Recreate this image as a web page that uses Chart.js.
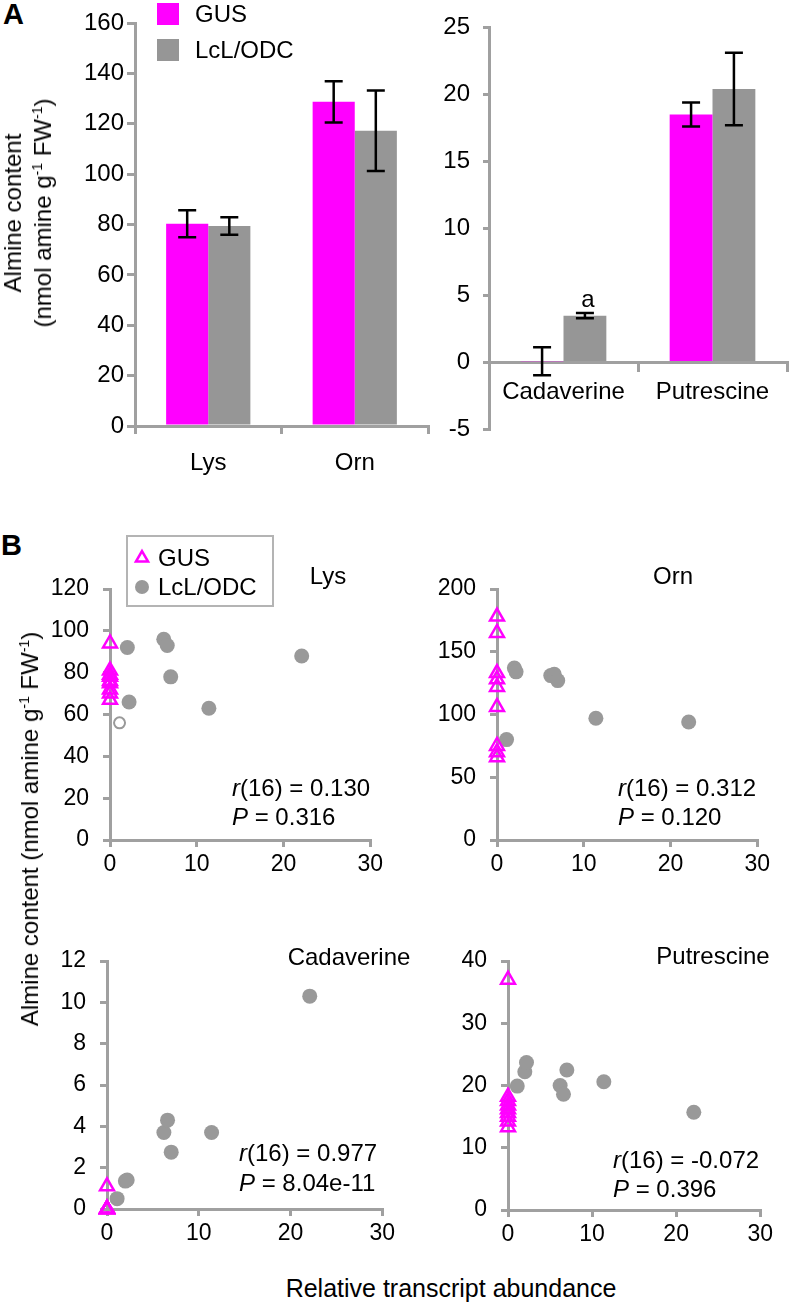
<!doctype html>
<html>
<head>
<meta charset="utf-8">
<script src="https://cdn.jsdelivr.net/npm/chart.js@4.4.1/dist/chart.umd.min.js"></script>
<style>
  body { margin: 0; background: #fff; }
  #fig { position: relative; width: 789px; height: 1304px; overflow: hidden;
         font-family: 'Liberation Sans', Arial, sans-serif; color: #000; }
  #fig canvas { position: absolute; }
  .t { position: absolute; font-size: 24px; line-height: 24px; white-space: nowrap; }
  .c { transform: translate(-50%, -50%); }
  .panel { font-weight: bold; font-size: 29px; line-height: 29px; }
  .rot { transform: translate(-50%, -50%) rotate(-90deg); text-align: center; }
  sup { font-size: 14px; vertical-align: 9px; line-height: 0; }
</style>
</head>
<body>
<div id="fig">
  <canvas id="a1"></canvas>
  <canvas id="a2"></canvas>
  <canvas id="bLys"></canvas>
  <canvas id="bOrn"></canvas>
  <canvas id="bCad"></canvas>
  <canvas id="bPut"></canvas>

  <div class="t panel" style="left:3px;top:0px">A</div>
  <div class="t panel" style="left:1px;top:531px">B</div>

  <div class="t rot" style="left:28px;top:213px;line-height:30px">Almine content<br>(nmol amine g<sup>-1</sup> FW<sup>-1</sup>)</div>
  <div class="t rot" style="left:30px;top:829px">Almine content (nmol amine g<sup>-1</sup> FW<sup>-1</sup>)</div>
  <div class="t c" style="left:451px;top:1288px;font-size:25px">Relative transcript abundance</div>

  <div class="t c" style="left:328px;top:576px">Lys</div>
  <div class="t c" style="left:673px;top:576px">Orn</div>
  <div class="t c" style="left:349px;top:957px">Cadaverine</div>
  <div class="t c" style="left:713px;top:956px">Putrescine</div>

  <div class="t" style="left:232px;top:776px"><i>r</i>(16) = 0.130</div>
  <div class="t" style="left:232px;top:805px"><i>P</i> = 0.316</div>
  <div class="t" style="left:618px;top:776px"><i>r</i>(16) = 0.312</div>
  <div class="t" style="left:618px;top:805px"><i>P</i> = 0.120</div>
  <div class="t" style="left:239px;top:1141px"><i>r</i>(16) = 0.977</div>
  <div class="t" style="left:239px;top:1171px"><i>P</i> = 8.04e-11</div>
  <div class="t" style="left:613px;top:1148px"><i>r</i>(16) = -0.072</div>
  <div class="t" style="left:613px;top:1177px"><i>P</i> = 0.396</div>
</div>

<script>
// ---- panel A: mean amine content (bars) ----
const aminoCats = ['Lys', 'Orn'];
const aminoGus = [80.3, 128.7];
const aminoGusErr = [5.4, 8.2];
const aminoLcl = [79.4, 117.2];
const aminoLclErr = [3.5, 16.0];
const aminoAxis = [0, 160, 20];          // min, max, step

const amineCats = ['Cadaverine', 'Putrescine'];
const amineGus = [0.1, 18.5];
const amineGusErr = [1.05, 0.9];
const amineLcl = [3.5, 20.4];
const amineLclErr = [0.2, 2.7];
const amineLclMarks = ['a', ''];
const amineAxis = [-5, 25, 5];

// ---- panel B: individual plants vs transcript abundance ----
const gusX = [0, 0, 0, 0, 0, 0, 0, 0, 0];
const lclX = [1.1, 2.0, 2.2, 6.2, 6.6, 7.0, 11.4, 22.1];
const transcriptAxis = [0, 30, 10];

const lysGus = [94, 81, 79, 78, 76, 75, 72, 70, 67];
const lysLcl = [56, 92, 66, 96, 93, 78, 63, 88];
const lysOpen = [0];                     // index of the hollow LcL/ODC point
const lysAxis = [0, 120, 20];

const ornGus = [178, 165, 133, 128, 122, 106, 75, 70, 66];
const ornLcl = [80, 137, 134, 131, 132, 127, 97, 94];
const ornAxis = [0, 200, 50];

const cadGus = [1.1, 0, 0, 0, 0, 0, 0, 0, 0];
const cadLcl = [0.5, 1.35, 1.4, 3.7, 4.3, 2.75, 3.7, 10.3];
const cadAxis = [0, 12, 2];

const putGus = [37, 18.2, 17.5, 16.8, 16.2, 15.6, 15, 14.2, 13.3];
const putLcl = [19.9, 22.2, 23.7, 20.0, 18.6, 22.5, 20.6, 15.7];
const putAxis = [0, 40, 10];

const MAGENTA = '#ff00ff';
const BAR_GRAY = '#969696';
const DOT_GRAY = '#999999';
const AXIS_GRAY = '#a0a0a0';
const FONT = "'Liberation Sans', Arial, sans-serif";

Chart.defaults.font.family = FONT;
Chart.defaults.color = '#000';

function sizeCanvas(id, area, pad) {
  const c = document.getElementById(id);
  c.width = area.r - area.l + pad.l + pad.r;
  c.height = area.b - area.t + pad.t + pad.b;
  c.style.left = (area.l - pad.l) + 'px';
  c.style.top = (area.t - pad.t) + 'px';
  return c;
}

function axis(tickLen, padding, size, extra) {
  return Object.assign({}, extra, {
    border: { display: true, color: AXIS_GRAY, width: 3 },
    grid: { display: true, drawOnChartArea: false, drawTicks: true, offset: !!extra.gridOffset,
            tickLength: tickLen, tickColor: AXIS_GRAY, color: AXIS_GRAY, lineWidth: 3, tickWidth: 3 },
    ticks: Object.assign({ padding: padding, color: '#000', font: { size: size } }, extra.ticks || {})
  });
}

// error bars + significance letter, drawn from the y scale
const errorBars = {
  id: 'errorBars',
  afterDatasetsDraw(chart) {
    const ctx = chart.ctx, y = chart.scales.y;
    chart.data.datasets.forEach((ds, di) => {
      chart.getDatasetMeta(di).data.forEach((bar, i) => {
        const top = y.getPixelForValue(ds.data[i] + ds.errors[i]);
        const bot = y.getPixelForValue(ds.data[i] - ds.errors[i]);
        ctx.save();
        ctx.strokeStyle = '#000';
        ctx.lineWidth = 2.5;
        ctx.beginPath();
        ctx.moveTo(bar.x, top); ctx.lineTo(bar.x, bot);
        ctx.moveTo(bar.x - 9, top); ctx.lineTo(bar.x + 9, top);
        ctx.moveTo(bar.x - 9, bot); ctx.lineTo(bar.x + 9, bot);
        ctx.stroke();
        if (ds.marks && ds.marks[i]) {
          ctx.fillStyle = '#000';
          ctx.font = '24px ' + FONT;
          ctx.textAlign = 'center';
          ctx.textBaseline = 'bottom';
          ctx.fillText(ds.marks[i], bar.x + 3, top - 1);
        }
        ctx.restore();
      });
    });
  }
};

// colour-swatch key (panel A)
const swatchKey = {
  id: 'swatchKey',
  afterDraw(chart, args, o) {
    if (!o.show) return;
    const ctx = chart.ctx;
    ctx.save();
    ctx.font = '24px ' + FONT;
    ctx.textBaseline = 'middle';
    chart.data.datasets.forEach((ds, i) => {
      const top = o.y + i * o.gap;
      ctx.fillStyle = ds.backgroundColor;
      ctx.fillRect(o.x, top, 22, 22);
      ctx.fillStyle = '#000';
      ctx.fillText(ds.label, o.x + 38, top + 12);
    });
    ctx.restore();
  }
};

// boxed marker key (panel B)
const markerKey = {
  id: 'markerKey',
  afterDraw(chart, args, o) {
    if (!o.show) return;
    const ctx = chart.ctx;
    ctx.save();
    ctx.strokeStyle = '#b4b4b4';
    ctx.lineWidth = 2;
    ctx.strokeRect(o.x, o.y, o.w, o.h);
    ctx.font = '24px ' + FONT;
    ctx.textBaseline = 'middle';
    chart.data.datasets.forEach((ds, i) => {
      const cy = o.y + 22 + i * 29;
      ctx.fillStyle = ds.backgroundColor;
      ctx.strokeStyle = ds.borderColor;
      ctx.lineWidth = ds.borderWidth;
      Chart.helpers.drawPoint(ctx, { pointStyle: ds.pointStyle, radius: 7, rotation: 0,
                                     borderWidth: ds.borderWidth }, o.x + 15, cy);
      ctx.fillStyle = '#000';
      ctx.fillText(ds.label, o.x + 31, cy + 1);
    });
    ctx.restore();
  }
};

function barChart(id, area, pad, cats, gus, gusErr, lcl, lclErr, marks, range, xTick, yTick, atZero, key) {
  const canvas = sizeCanvas(id, area, pad);
  const xExtra = { gridOffset: true, afterFit(s) { s.height = pad.b; } };
  if (atZero) xExtra.position = { y: 0 };
  return new Chart(canvas, {
    type: 'bar',
    data: {
      labels: cats,
      datasets: [
        { label: 'GUS', data: gus, errors: gusErr, backgroundColor: MAGENTA,
          categoryPercentage: 0.575, barPercentage: 1 },
        { label: 'LcL/ODC', data: lcl, errors: lclErr, marks: marks, backgroundColor: BAR_GRAY,
          categoryPercentage: 0.575, barPercentage: 1 }
      ]
    },
    options: {
      responsive: false, animation: false, events: [],
      layout: { padding: { top: pad.t, right: pad.r, left: 0, bottom: 0 } },
      plugins: { legend: { display: false }, tooltip: { enabled: false },
                 swatchKey: key || { show: false } },
      scales: {
        x: axis(xTick[0], xTick[1], 24, xExtra),
        y: axis(yTick[0], yTick[1], 24, {
          min: range[0], max: range[1],
          ticks: { stepSize: range[2] },
          afterFit(s) { s.width = pad.l; }
        })
      }
    },
    plugins: [errorBars, swatchKey]
  });
}

function scatterChart(id, area, gus, lcl, range, open, key) {
  const pad = { l: 70, t: 60, r: 16, b: 45 };
  const canvas = sizeCanvas(id, area, pad);
  open = open || [];
  return new Chart(canvas, {
    type: 'scatter',
    data: {
      datasets: [
        { label: 'GUS', data: gusX.map((x, i) => ({ x: x, y: gus[i] })),
          pointStyle: 'triangle', pointRadius: 8, borderWidth: 2.5,
          borderColor: MAGENTA, backgroundColor: 'rgba(255,255,255,0)', clip: false },
        { label: 'LcL/ODC', data: lclX.map((x, i) => ({ x: x, y: lcl[i] })),
          pointStyle: 'circle', borderWidth: 0,
          pointRadius: c => open.includes(c.dataIndex) ? 5.5 : 7.5,
          pointBorderWidth: c => open.includes(c.dataIndex) ? 2 : 0,
          pointBackgroundColor: c => open.includes(c.dataIndex) ? '#ffffff' : DOT_GRAY,
          borderColor: DOT_GRAY, backgroundColor: DOT_GRAY, clip: false }
      ]
    },
    options: {
      responsive: false, animation: false, events: [],
      layout: { padding: { top: pad.t, right: pad.r, left: 0, bottom: 0 } },
      plugins: { legend: { display: false }, tooltip: { enabled: false },
                 markerKey: key || { show: false } },
      scales: {
        x: axis(7, 4, 23, {
          type: 'linear', min: transcriptAxis[0], max: transcriptAxis[1],
          ticks: { stepSize: transcriptAxis[2] },
          afterFit(s) { s.height = pad.b; }
        }),
        y: axis(7, 14, 23, {
          min: range[0], max: range[1],
          ticks: { stepSize: range[2] },
          afterFit(s) { s.width = pad.l; }
        })
      }
    },
    plugins: [markerKey]
  });
}

barChart('a1', { l: 135, t: 23, r: 428, b: 426 }, { l: 85, t: 23, r: 4, b: 54 },
  aminoCats, aminoGus, aminoGusErr, aminoLcl, aminoLclErr, null, aminoAxis,
  [8, 15], [8, 3], false, { show: true, x: 107, y: 3, gap: 36 });

barChart('a2', { l: 489, t: 24, r: 787, b: 427 }, { l: 60, t: 24, r: 2, b: 30 },
  amineCats, amineGus, amineGusErr, amineLcl, amineLclErr, amineLclMarks, amineAxis,
  [8, 7], [6, 13], true, null);

scatterChart('bLys', { l: 110, t: 589, r: 371, b: 840 }, lysGus, lysLcl, lysAxis, lysOpen,
  { show: true, x: 87, y: 7, w: 146, h: 70 });
scatterChart('bOrn', { l: 497, t: 589, r: 758, b: 840 }, ornGus, ornLcl, ornAxis);
scatterChart('bCad', { l: 107, t: 961, r: 383, b: 1209 }, cadGus, cadLcl, cadAxis);
scatterChart('bPut', { l: 508, t: 961, r: 761, b: 1210 }, putGus, putLcl, putAxis);
</script>
</body>
</html>
